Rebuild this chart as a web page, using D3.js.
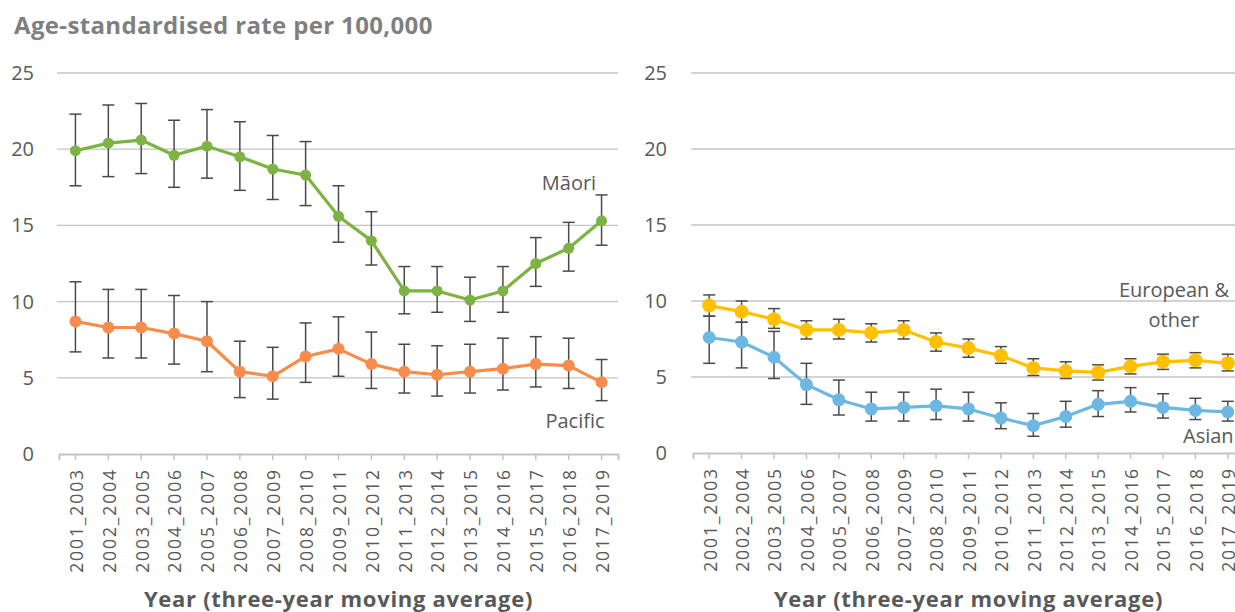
<!DOCTYPE html>
<html>
<head>
<meta charset="utf-8">
<script src="https://cdn.jsdelivr.net/npm/d3@7"></script>
<style>
  html, body { margin: 0; padding: 0; background: #fff; }
  svg { display: block; font-family: "Open Sans", "Noto Sans", sans-serif; }
</style>
</head>
<body>
<svg id="chart" width="1235" height="612"></svg>
<script>
// Three-year moving average periods
const periods = ["2001_2003","2002_2004","2003_2005","2004_2006","2005_2007","2006_2008",
  "2007_2009","2008_2010","2009_2011","2010_2012","2011_2013","2012_2014","2013_2015",
  "2014_2016","2015_2017","2016_2018","2017_2019"];

const yTicks = [0, 5, 10, 15, 20, 25];

// Age-standardised rate per 100,000, with 95% confidence limits
const maoriRate  = [19.9, 20.4, 20.6, 19.6, 20.2, 19.5, 18.7, 18.3, 15.6, 14.0, 10.7, 10.7, 10.1, 10.7, 12.5, 13.5, 15.3];
const maoriLow   = [17.6, 18.2, 18.4, 17.5, 18.1, 17.3, 16.7, 16.3, 13.9, 12.4,  9.2,  9.3,  8.7,  9.3, 11.0, 12.0, 13.7];
const maoriHigh  = [22.3, 22.9, 23.0, 21.9, 22.6, 21.8, 20.9, 20.5, 17.6, 15.9, 12.3, 12.3, 11.6, 12.3, 14.2, 15.2, 17.0];

const pacificRate = [8.7, 8.3, 8.3, 7.9, 7.4, 5.4, 5.1, 6.4, 6.9, 5.9, 5.4, 5.2, 5.4, 5.6, 5.9, 5.8, 4.7];
const pacificLow  = [6.7, 6.3, 6.3, 5.9, 5.4, 3.7, 3.6, 4.7, 5.1, 4.3, 4.0, 3.8, 4.0, 4.2, 4.4, 4.3, 3.5];
const pacificHigh = [11.3, 10.8, 10.8, 10.4, 10.0, 7.4, 7.0, 8.6, 9.0, 8.0, 7.2, 7.1, 7.2, 7.6, 7.7, 7.6, 6.2];

const europeanRate = [9.7, 9.3, 8.8, 8.1, 8.1, 7.9, 8.1, 7.3, 6.9, 6.4, 5.6, 5.4, 5.3, 5.7, 6.0, 6.1, 5.9];
const europeanLow  = [9.0, 8.6, 8.2, 7.5, 7.5, 7.3, 7.5, 6.7, 6.3, 5.9, 5.1, 4.9, 4.8, 5.2, 5.5, 5.6, 5.4];
const europeanHigh = [10.4, 10.0, 9.5, 8.7, 8.8, 8.5, 8.7, 7.9, 7.5, 7.0, 6.2, 6.0, 5.8, 6.2, 6.5, 6.6, 6.5];

const asianRate = [7.6, 7.3, 6.3, 4.5, 3.5, 2.9, 3.0, 3.1, 2.9, 2.3, 1.8, 2.4, 3.2, 3.4, 3.0, 2.8, 2.7];
const asianLow  = [5.9, 5.6, 4.9, 3.2, 2.5, 2.1, 2.1, 2.2, 2.1, 1.6, 1.1, 1.7, 2.4, 2.7, 2.3, 2.2, 2.1];
const asianHigh = [9.0, 8.6, 8.0, 5.9, 4.8, 4.0, 4.0, 4.2, 4.0, 3.3, 2.6, 3.4, 4.1, 4.3, 3.9, 3.6, 3.4];

const textGrey = "#595959";
const gridGrey = "#c4c4c4";
const svg = d3.select("#chart");

// Chart title
svg.append("text")
  .attr("x", 14).attr("y", 34)
  .attr("fill", "#7f7f7f")
  .attr("font-weight", 700)
  .attr("font-size", 24)
  .attr("letter-spacing", 0.35)
  .text("Age-standardised rate per 100,000");

function drawPanel(cfg) {
  const g = svg.append("g");
  const x = d3.scaleBand().domain(periods).range([cfg.x0, cfg.x1]);
  const y = d3.scaleLinear().domain([0, 25]).range([cfg.yBottom, cfg.yTop]);
  const cx = d => x(d) + x.bandwidth() / 2;

  // Horizontal gridlines
  g.append("g").selectAll("line")
    .data(yTicks.filter(t => t > 0))
    .join("line")
    .attr("x1", cfg.x0 - 2).attr("x2", cfg.gridEnd)
    .attr("y1", d => y(d)).attr("y2", d => y(d))
    .attr("stroke", gridGrey).attr("stroke-width", 1.3);

  // Y axis labels
  const yAxis = d3.axisLeft(y).tickValues(yTicks).tickSize(0).tickPadding(cfg.labelPad);
  const ya = g.append("g").attr("transform", `translate(${cfg.x0},0)`).call(yAxis);
  ya.select(".domain").remove();
  ya.selectAll("text")
    .attr("fill", textGrey).attr("font-size", 20)
    .attr("font-family", "'Open Sans', sans-serif");

  // X axis with period labels
  const xAxis = d3.axisBottom(x).tickSize(6).tickPadding(8);
  const xa = g.append("g").attr("transform", `translate(0,${cfg.yBottom})`).call(xAxis);
  xa.select(".domain").attr("stroke", gridGrey).attr("stroke-width", 2);
  xa.selectAll(".tick line").attr("stroke", gridGrey).attr("stroke-width", 1.5);
  xa.selectAll(".tick text")
    .attr("fill", textGrey).attr("font-size", 17.5)
    .attr("font-family", "'Open Sans', sans-serif")
    .attr("letter-spacing", 1.9)
    .attr("text-anchor", "end")
    .attr("transform", "rotate(-90)")
    .attr("x", -14).attr("y", 1).attr("dy", "0.36em");

  // X axis title
  g.append("text")
    .attr("x", (cfg.x0 + cfg.x1) / 2).attr("y", 607)
    .attr("text-anchor", "middle")
    .attr("fill", textGrey).attr("font-weight", 700).attr("font-size", 22)
    .attr("letter-spacing", 0.7)
    .text("Year (three-year moving average)");

  cfg.series.forEach(s => {
    const rows = periods.map((p, i) => ({ p, v: s.rate[i], lo: s.low[i], hi: s.high[i] }));
    const sg = g.append("g");

    // Confidence interval bars
    const eb = sg.append("g").attr("stroke", "#4a4a4a").attr("stroke-width", 1.5);
    eb.selectAll("line.v").data(rows).join("line").attr("class", "v")
      .attr("x1", d => cx(d.p)).attr("x2", d => cx(d.p))
      .attr("y1", d => y(d.lo)).attr("y2", d => y(d.hi));
    eb.selectAll("line.t").data(rows).join("line").attr("class", "t")
      .attr("x1", d => cx(d.p) - 6).attr("x2", d => cx(d.p) + 6)
      .attr("y1", d => y(d.hi)).attr("y2", d => y(d.hi));
    eb.selectAll("line.b").data(rows).join("line").attr("class", "b")
      .attr("x1", d => cx(d.p) - 6).attr("x2", d => cx(d.p) + 6)
      .attr("y1", d => y(d.lo)).attr("y2", d => y(d.lo));

    // Rate line and markers
    sg.append("path").datum(rows)
      .attr("fill", "none").attr("stroke", s.color).attr("stroke-width", 3.2)
      .attr("stroke-linejoin", "round")
      .attr("d", d3.line().x(d => cx(d.p)).y(d => y(d.v)));
    sg.selectAll("circle").data(rows).join("circle")
      .attr("cx", d => cx(d.p)).attr("cy", d => y(d.v))
      .attr("r", s.r).attr("fill", s.color);

    // Series label
    const lbl = sg.append("text")
      .attr("fill", textGrey).attr("font-size", 20)
      .attr("text-anchor", s.anchor || "middle");
    s.label.forEach((line, i) => {
      lbl.append("tspan").attr("x", s.lx).attr("y", s.ly + i * 30).text(line);
    });
  });
}

drawPanel({
  x0: 59, x1: 618, gridEnd: 618, yBottom: 454, yTop: 73, labelPad: 25,
  series: [
    { rate: maoriRate, low: maoriLow, high: maoriHigh, color: "#7cb342", r: 5.5,
      label: ["Māori"], lx: 569, ly: 190 },
    { rate: pacificRate, low: pacificLow, high: pacificHigh, color: "#f78c4c", r: 6,
      label: ["Pacific"], lx: 575, ly: 428 }
  ]
});

drawPanel({
  x0: 693, x1: 1244, gridEnd: 1235, yBottom: 453, yTop: 73, labelPad: 26,
  series: [
    { rate: europeanRate, low: europeanLow, high: europeanHigh, color: "#ffc000", r: 7,
      label: ["European &", "other"], lx: 1174, ly: 297 },
    { rate: asianRate, low: asianLow, high: asianHigh, color: "#6cb8e2", r: 6.5,
      label: ["Asian"], lx: 1183, ly: 443, anchor: "start" }
  ]
});
</script>
</body>
</html>
